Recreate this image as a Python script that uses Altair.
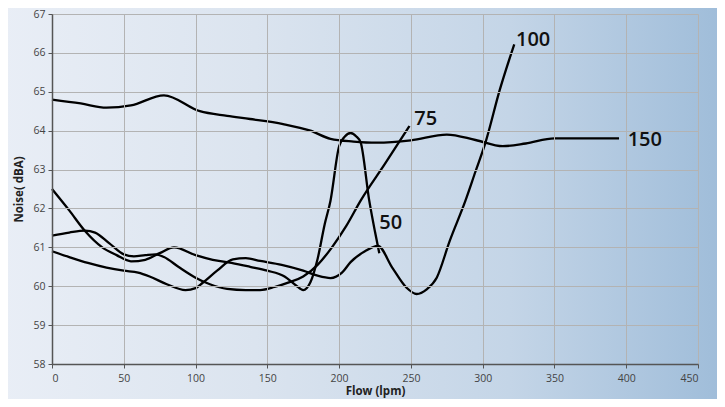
import altair as alt
import pandas as pd

# ---- data ----
x50 = [0, 12, 23, 35, 45, 55, 65, 75, 85, 100, 112, 125, 138, 150, 162, 170, 175, 180, 185, 190, 194, 200, 204, 208, 212, 215, 221, 225, 228]
y50 = [62.5, 61.95, 61.42, 61.0, 60.8, 60.64, 60.68, 60.85, 61.0, 60.8, 60.68, 60.6, 60.5, 60.4, 60.25, 60.02, 59.9, 60.1, 60.7, 61.6, 62.2, 63.6, 63.85, 63.94, 63.85, 63.7, 62.2, 61.4, 60.85]

x75 = [0, 12, 23, 30, 40, 50, 57, 65, 72, 78, 88, 100, 110, 122, 135, 145, 155, 165, 175, 185, 195, 205, 215, 232, 249]
y75 = [61.3, 61.38, 61.43, 61.38, 61.1, 60.82, 60.77, 60.8, 60.82, 60.75, 60.5, 60.22, 60.05, 59.93, 59.9, 59.9, 59.98, 60.1, 60.25, 60.55, 61.0, 61.55, 62.2, 63.15, 64.12]

x100 = [0, 12, 25, 38, 50, 60, 68, 80, 93, 100, 105, 115, 126, 135, 145, 160, 175, 185, 194, 202, 208, 218, 227, 237, 247, 254, 261, 268, 277, 288, 295, 302, 312, 322]
y100 = [60.9, 60.75, 60.6, 60.48, 60.4, 60.35, 60.25, 60.05, 59.9, 59.95, 60.09, 60.4, 60.69, 60.72, 60.65, 60.55, 60.4, 60.27, 60.21, 60.35, 60.62, 60.9, 61.04, 60.48, 59.96, 59.8, 59.92, 60.22, 61.16, 62.2, 62.95, 63.7, 65.06, 66.22]

x150 = [0, 20, 38, 55, 78, 103, 122, 138, 161, 180, 194, 210, 226, 250, 275, 295, 314, 330, 350, 375, 395]
y150 = [64.8, 64.7, 64.59, 64.65, 64.91, 64.5, 64.38, 64.3, 64.17, 64.0, 63.79, 63.72, 63.69, 63.75, 63.9, 63.76, 63.6, 63.67, 63.8, 63.8, 63.8]

series_names = ["50", "75", "100", "150"]
label_x = [228, 252.4, 323.2, 401]
label_y = [61.63, 64.31, 66.32, 63.75]

x_ticks = [0, 50, 100, 150, 200, 250, 300, 350, 400, 450]
y_ticks = [58, 59, 60, 61, 62, 63, 64, 65, 66, 67]

rows = []
for name, xs, ys in zip(series_names, [x50, x75, x100, x150], [y50, y75, y100, y150]):
    for xv, yv in zip(xs, ys):
        rows.append({"series": name, "flow": xv, "noise": yv})
df = pd.DataFrame(rows)
labels = pd.DataFrame({"text": series_names, "flow": label_x, "noise": label_y})

W, H = 646, 350
FONT = "Open Sans"

xscale = alt.Scale(domain=[0, 450], nice=False, zero=False)
yscale = alt.Scale(domain=[58, 67], nice=False, zero=False)

xaxis = alt.Axis(values=x_ticks, title="Flow (lpm)", grid=True, zindex=1,
                 titleY=27, titleBaseline="middle", labelOverlap=False)
yaxis = alt.Axis(values=y_ticks, title="Noise( dBA)", grid=True, zindex=1,
                 titleX=-33, titleY=H / 2, titleBaseline="middle", titleAngle=-90,
                 labelOverlap=False, tickCount=10)

grad = alt.Gradient(
    gradient="linear",
    stops=[
        alt.GradientStop(color="#e9eef6", offset=0),
        alt.GradientStop(color="#dbe4ef", offset=0.35),
        alt.GradientStop(color="#c4d5e7", offset=0.7),
        alt.GradientStop(color="#9ebcd9", offset=1),
    ],
    x1=0, x2=1, y1=0, y2=0,
)

bg = alt.Chart(pd.DataFrame({"k": [0]})).mark_rect(fill=grad, strokeWidth=0).encode(
    x=alt.value(-52), x2=alt.value(W + 30), y=alt.value(-15), y2=alt.value(H + 50)
)

lines = alt.Chart(df).mark_line(color="black", strokeWidth=2.3, interpolate="monotone").encode(
    x=alt.X("flow:Q", scale=xscale, axis=xaxis),
    y=alt.Y("noise:Q", scale=yscale, axis=yaxis),
    detail="series:N",
)

text = alt.Chart(labels).mark_text(
    align="left", baseline="middle", fontSize=20, font=FONT, fontWeight=600, color="#111"
).encode(
    x=alt.X("flow:Q", scale=xscale, axis=xaxis),
    y=alt.Y("noise:Q", scale=yscale, axis=yaxis),
    text="text:N",
)

chart = alt.layer(bg, lines, text).properties(
    width=W, height=H,
    autosize=alt.AutoSizeParams(type="none"),
    padding={"left": 44, "top": 6, "right": 19, "bottom": 35},
    background="#e7ecf4",
).configure_view(stroke=None).configure_axis(
    gridColor="#b3b3b3", gridWidth=1,
    domainColor="#555555", domainWidth=1.5,
    tickColor="#555555", tickSize=4, tickWidth=1,
    labelFont=FONT, labelFontSize=10.5, labelColor="#444444", labelPadding=3,
    titleFont=FONT, titleFontSize=11.5, titleFontWeight="bold", titleColor="#222222",
).configure_axisX(labelPadding=5)

chart.save("out.html", embed_options={"renderer": "svg", "actions": False})
